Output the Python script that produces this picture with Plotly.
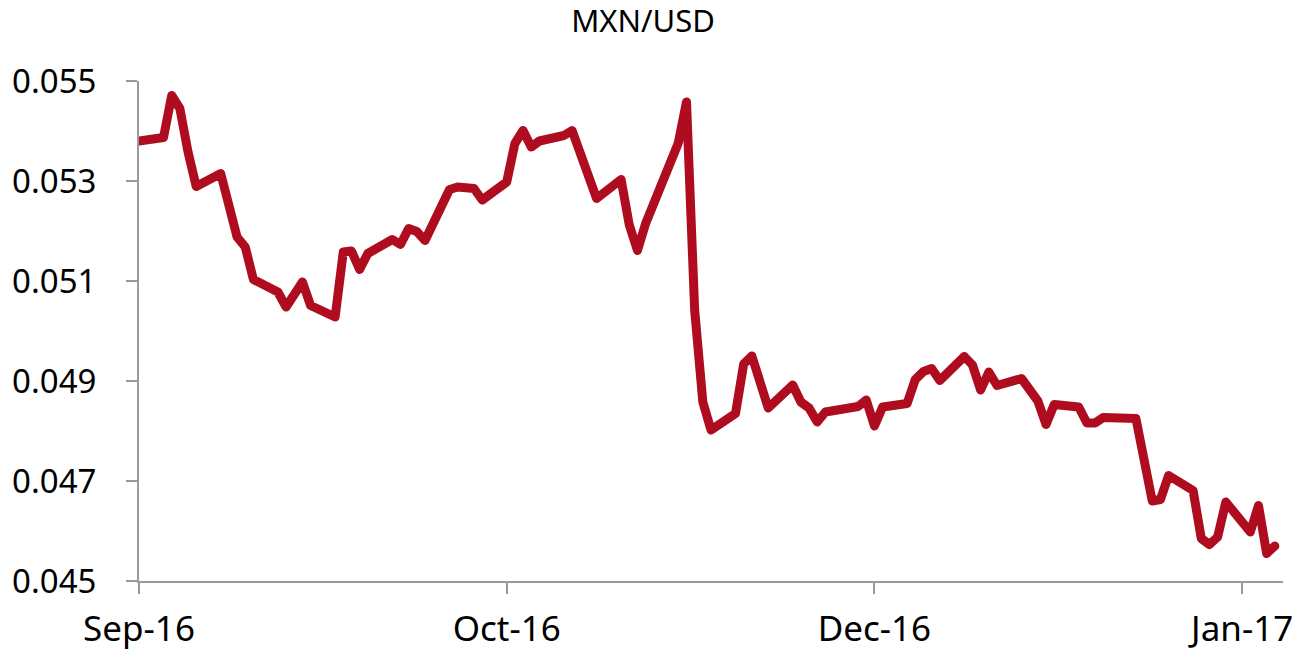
import plotly.graph_objects as go

title_text = "MXN/USD"

dates = [
    "2016-09-02", "2016-09-05", "2016-09-06", "2016-09-07", "2016-09-08", "2016-09-09",
    "2016-09-12", "2016-09-13", "2016-09-14", "2016-09-15", "2016-09-16",
    "2016-09-19", "2016-09-20", "2016-09-22", "2016-09-23",
    "2016-09-26", "2016-09-27", "2016-09-28", "2016-09-29", "2016-09-30",
    "2016-10-03", "2016-10-04", "2016-10-05", "2016-10-06", "2016-10-07",
    "2016-10-10", "2016-10-11", "2016-10-13", "2016-10-14",
    "2016-10-17", "2016-10-18", "2016-10-19", "2016-10-20", "2016-10-21",
    "2016-10-24", "2016-10-25", "2016-10-28", "2016-10-31",
    "2016-11-01", "2016-11-02", "2016-11-03", "2016-11-07", "2016-11-08",
    "2016-11-09", "2016-11-10", "2016-11-11", "2016-11-14", "2016-11-15",
    "2016-11-16", "2016-11-18", "2016-11-21", "2016-11-22", "2016-11-23",
    "2016-11-24", "2016-11-25", "2016-11-29", "2016-11-30",
    "2016-12-01", "2016-12-02", "2016-12-05", "2016-12-06", "2016-12-07",
    "2016-12-08", "2016-12-09", "2016-12-12", "2016-12-13", "2016-12-14",
    "2016-12-15", "2016-12-16", "2016-12-19", "2016-12-20", "2016-12-21",
    "2016-12-22", "2016-12-23", "2016-12-26", "2016-12-27", "2016-12-28",
    "2016-12-29",
    "2017-01-02", "2017-01-04", "2017-01-05", "2017-01-06", "2017-01-09",
    "2017-01-10", "2017-01-11", "2017-01-12", "2017-01-13", "2017-01-16",
    "2017-01-17", "2017-01-18", "2017-01-19",
]

mxn_usd = [
    0.05380, 0.05387, 0.05471, 0.05445, 0.05358, 0.05289,
    0.05315, 0.05242, 0.05188, 0.05168, 0.05103,
    0.05078, 0.05048, 0.05098, 0.05051,
    0.05028, 0.05158, 0.05160, 0.05123, 0.05155,
    0.05183, 0.05173, 0.05205, 0.05199, 0.05181,
    0.05283, 0.05288, 0.05285, 0.05262,
    0.05298, 0.05375, 0.05401, 0.05368, 0.05380,
    0.05391, 0.05401, 0.05265, 0.05303,
    0.05212, 0.05161, 0.05215, 0.05376, 0.05458,
    0.05042, 0.04858, 0.04802, 0.04835, 0.04934,
    0.04950, 0.04846, 0.04892, 0.04858, 0.04846,
    0.04818, 0.04838, 0.04849, 0.04862,
    0.04810, 0.04848, 0.04855, 0.04903, 0.04919,
    0.04925, 0.04901, 0.04949, 0.04932, 0.04882,
    0.04918, 0.04891, 0.04905, 0.04881, 0.04860,
    0.04813, 0.04853, 0.04848, 0.04816, 0.04816,
    0.04827,
    0.04825, 0.04660, 0.04663, 0.04711, 0.04681,
    0.04585, 0.04573, 0.04588, 0.04658, 0.04598,
    0.04651, 0.04555, 0.04570,
]

x_tick_dates = ["2016-09-02", "2016-10-17", "2016-12-01", "2017-01-15"]
x_tick_labels = ["Sep-16", "Oct-16", "Dec-16", "Jan-17"]
x_range = ["2016-09-02", "2017-01-20"]

y_ticks = [0.045, 0.047, 0.049, 0.051, 0.053, 0.055]
y_tick_labels = ["0.045", "0.047", "0.049", "0.051", "0.053", "0.055"]

FONT = "'Noto Sans', 'Open Sans', sans-serif"
AXIS_GREY = "#9a9a9a"
LINE_RED = "#AF0D1F"

fig = go.Figure()
fig.add_trace(go.Scatter(
    x=dates, y=mxn_usd, mode="lines",
    line=dict(color=LINE_RED, width=9),
    showlegend=False, hoverinfo="x+y",
))

fig.update_layout(
    width=1306, height=651,
    margin=dict(l=139, r=23, t=81, b=70, pad=0),
    paper_bgcolor="white", plot_bgcolor="white",
    font=dict(family=FONT, color="black", size=35),
    title=dict(text=title_text, x=643 / 1306, xanchor="center",
               y=1 - 21 / 651, yanchor="middle",
               font=dict(family=FONT, size=31, color="black")),
    showlegend=False,
)
fig.update_xaxes(
    type="date", range=x_range, automargin=False,
    tickmode="array", tickvals=x_tick_dates, ticktext=x_tick_labels,
    showgrid=False, zeroline=False,
    showline=True, linecolor=AXIS_GREY, linewidth=2,
    ticks="outside", ticklen=11, tickwidth=2, tickcolor=AXIS_GREY,
    tickfont=dict(family=FONT, size=35, color="black"),
    ticklabelstandoff=5,
)
fig.update_yaxes(
    range=[0.045, 0.055], automargin=False,
    tickmode="array", tickvals=y_ticks, ticktext=y_tick_labels,
    showgrid=False, zeroline=False,
    showline=True, linecolor=AXIS_GREY, linewidth=2,
    ticks="outside", ticklen=11, tickwidth=2, tickcolor=AXIS_GREY,
    tickfont=dict(family=FONT, size=33, color="black"),
    ticklabelstandoff=23,
)

fig.write_html(
    "out.html",
    config={"displayModeBar": False},
    post_script=(
        "document.body.style.margin='0';document.body.style.padding='0';"
        "document.querySelectorAll('.scatterlayer path.js-line').forEach(function(p){"
        "p.style.strokeLinejoin='round';p.style.strokeLinecap='round';});"
    ),
)
